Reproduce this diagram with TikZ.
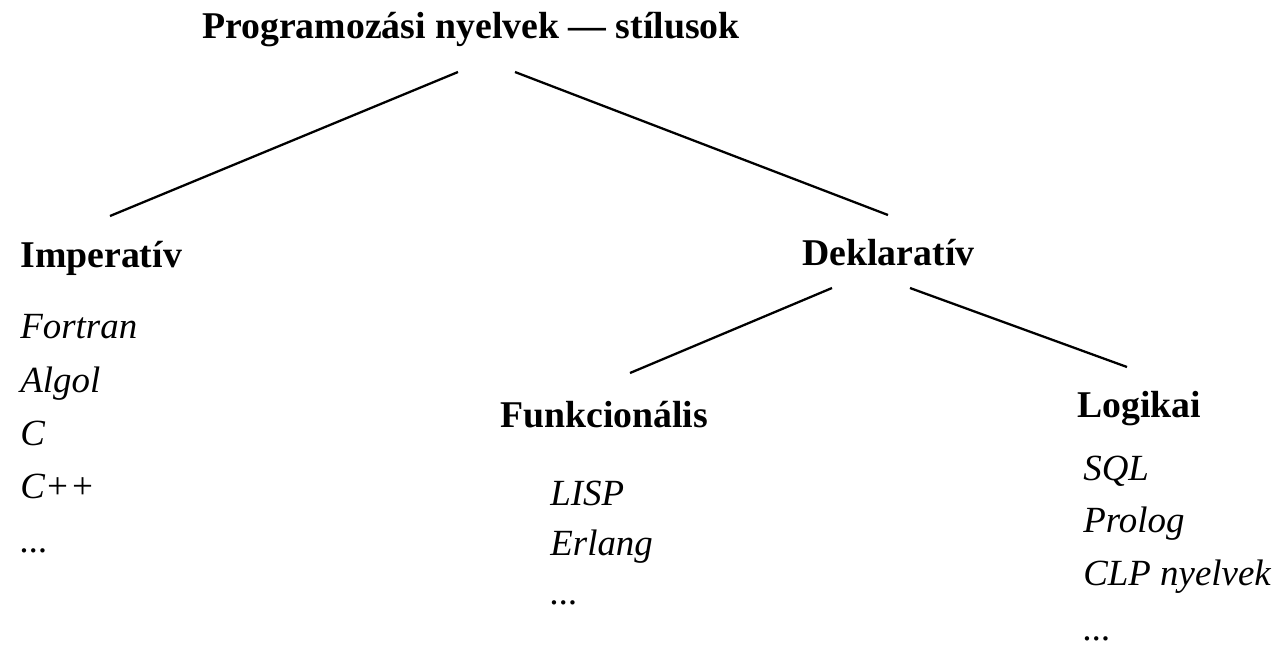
\documentclass[tikz,border=0pt]{standalone}
\usepackage{fontspec}
\setmainfont{Liberation Serif}
\usepackage{tikz}
\usetikzlibrary{calc}

\begin{document}
\begin{tikzpicture}[x=0.02cm, y=-0.02cm,
        head/.style={inner sep=0pt, font=\fontsize{21.5}{25}\selectfont\bfseries},
        lang/.style={inner sep=0pt, anchor=base west, font=\fontsize{21}{24}\selectfont\itshape},
        edge/.style={line width=1.3pt}]
            \useasboundingbox (0,0) rectangle (1286,654);

            \node[head, anchor=base] (title) at (471,38) {Programozási nyelvek --- stílusok};
            \node[head, anchor=base west] (imp) at (20,267) {Imperatív};
            \node[head, anchor=base west] (dekl) at (802,265) {Deklaratív};
            \node[head, anchor=base west] (funk) at (500,427) {Funkcionális};
            \node[head, anchor=base west] (logi) at (1077,417) {Logikai};

            \node[lang] (fortran) at (20,338) {Fortran};
            \node[lang] (algol) at (20,392) {Algol};
            \node[lang] (c) at (20,445) {C};
            \node[lang] (cpp) at (20,498) {C++};
            \node[lang] (impdots) at (20,552) {...};

            \node[lang] (lisp) at (550,505) {LISP};
            \node[lang] (erlang) at (550,555) {Erlang};
            \node[lang] (funkdots) at (550,604) {...};

            \node[lang] (sql) at (1083,480) {SQL};
            \node[lang] (prolog) at (1083,532) {Prolog};
            \node[lang] (clp) at (1083,585) {CLP nyelvek};
            \node[lang] (logidots) at (1083,640) {...};

            \draw[edge] ($(title.base)+(-13,34)$) -- ($(imp.base west)+(90,-51)$); % title-imp
            \draw[edge] ($(title.base)+(44,34)$) -- ($(dekl.base west)+(86,-50)$); % title-dekl
            \draw[edge] ($(dekl.base west)+(30,23)$) -- ($(funk.base west)+(130,-54)$); % dekl-funk
            \draw[edge] ($(dekl.base west)+(108,23)$) -- ($(logi.base west)+(50,-50)$); % dekl-logi
        \end{tikzpicture}
\end{document}
